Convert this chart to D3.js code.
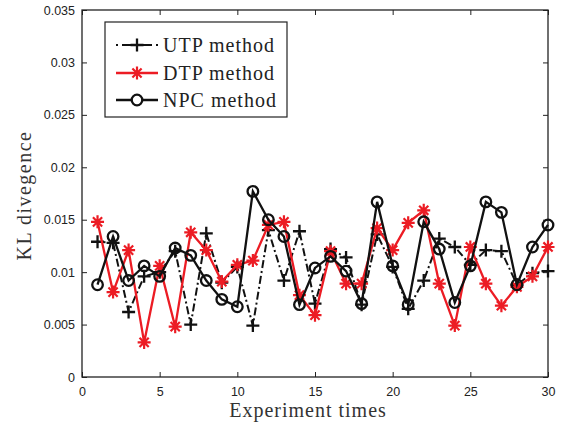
<!DOCTYPE html>
<html>
<head>
<meta charset="utf-8">
<script src="https://cdn.jsdelivr.net/npm/d3@7"></script>
<style>
  html, body { margin: 0; padding: 0; background: #fff; }
  svg { display: block; }
  .tick text { font-family: "Liberation Sans", Arial, sans-serif; font-size: 12.5px; fill: #222; }
</style>
</head>
<body>
<svg id="chart" width="569" height="427"></svg>
<script>
// Experiment index 1..30
const runs = d3.range(1, 31);

// KL divergence per experiment for each method
const utpValues = [0.0129, 0.0128, 0.0062, 0.0096, 0.0100, 0.0120, 0.0050, 0.0137, 0.0090, 0.0105,
                   0.0049, 0.0140, 0.0092, 0.0139, 0.0070, 0.0122, 0.0114, 0.0069, 0.0136, 0.0105,
                   0.0065, 0.0092, 0.0132, 0.0124, 0.0107, 0.0121, 0.0120, 0.0088, 0.0099, 0.0101];
const dtpValues = [0.0148, 0.0081, 0.0121, 0.0033, 0.0106, 0.0048, 0.0138, 0.0121, 0.0091, 0.0107,
                   0.0111, 0.0145, 0.0148, 0.0078, 0.0059, 0.0120, 0.0089, 0.0089, 0.0142, 0.0121,
                   0.0147, 0.0159, 0.0089, 0.0049, 0.0124, 0.0089, 0.0068, 0.0086, 0.0096, 0.0124];
const npcValues = [0.0088, 0.0134, 0.0092, 0.0106, 0.0096, 0.0123, 0.0116, 0.0092, 0.0074, 0.0067,
                   0.0177, 0.0150, 0.0134, 0.0069, 0.0104, 0.0115, 0.0101, 0.0070, 0.0167, 0.0106,
                   0.0069, 0.0148, 0.0122, 0.0071, 0.0106, 0.0167, 0.0157, 0.0088, 0.0124, 0.0145];

const xTicks = [0, 5, 10, 15, 20, 25, 30];
const yTicks = [0, 0.005, 0.01, 0.015, 0.02, 0.025, 0.03, 0.035];
const yTickLabels = ["0", "0.005", "0.01", "0.015", "0.02", "0.025", "0.03", "0.035"];

const seriesNames = ["UTP method", "DTP method", "NPC method"];
const RED = "#ec1c24";
const SERIF = "'Liberation Serif', 'Times New Roman', serif";

const svg = d3.select("#chart");
const margin = { left: 82, right: 21, top: 10, bottom: 50 };
const W = 569, H = 427;
const innerW = W - margin.left - margin.right;
const innerH = H - margin.top - margin.bottom;

const x = d3.scaleLinear().domain([0, 30]).range([margin.left, margin.left + innerW]);
const y = d3.scaleLinear().domain([0, 0.035]).range([margin.top + innerH, margin.top]);

// Axes with inward ticks (left/bottom labelled, top/right unlabelled)
const tickLen = 5;
svg.append("g")
  .attr("transform", `translate(0,${y(0)})`)
  .call(d3.axisBottom(x).tickValues(xTicks).tickSizeInner(-tickLen).tickSizeOuter(0).tickPadding(10))
  .call(g => g.select(".domain").remove())
  .call(g => g.selectAll("line").attr("stroke", "#222"));
svg.append("g")
  .attr("transform", `translate(${x(0)},0)`)
  .call(d3.axisLeft(y).tickValues(yTicks).tickFormat((d, i) => yTickLabels[i]).tickSizeInner(-tickLen).tickSizeOuter(0).tickPadding(7))
  .call(g => g.select(".domain").remove())
  .call(g => g.selectAll("line").attr("stroke", "#222"));
svg.append("g")
  .attr("transform", `translate(0,${y(0.035)})`)
  .call(d3.axisTop(x).tickValues(xTicks).tickSizeInner(-tickLen).tickSizeOuter(0).tickFormat(""))
  .call(g => g.select(".domain").remove())
  .call(g => g.selectAll("line").attr("stroke", "#222"));
svg.append("g")
  .attr("transform", `translate(${x(30)},0)`)
  .call(d3.axisRight(y).tickValues(yTicks).tickSizeInner(-tickLen).tickSizeOuter(0).tickFormat(""))
  .call(g => g.select(".domain").remove())
  .call(g => g.selectAll("line").attr("stroke", "#222"));

// Frame
svg.append("rect")
  .attr("x", x(0)).attr("y", y(0.035))
  .attr("width", x(30) - x(0)).attr("height", y(0) - y(0.035))
  .attr("fill", "none").attr("stroke", "#222").attr("stroke-width", 1.3);

// Axis titles
svg.append("text")
  .attr("x", 308).attr("y", 417)
  .attr("text-anchor", "middle")
  .attr("font-family", SERIF)
  .attr("font-size", 20).attr("letter-spacing", 1).attr("fill", "#333")
  .text("Experiment times");
svg.append("text")
  .attr("transform", `translate(31,${(y(0) + y(0.035)) / 2 + 2}) rotate(-90)`)
  .attr("text-anchor", "middle")
  .attr("font-family", SERIF)
  .attr("font-size", 20).attr("letter-spacing", 1.5).attr("fill", "#333")
  .text("KL divegence");

const line = d3.line().x((d, i) => x(runs[i])).y(d => y(d));

// Marker drawers
function plusPath(s) { return `M${-s},0H${s}M0,${-s}V${s}`; }
function starPath(s) {
  let p = "";
  for (let k = 0; k < 4; k++) {
    const a = k * Math.PI / 4;
    const dx = s * Math.cos(a), dy = s * Math.sin(a);
    p += `M${-dx},${-dy}L${dx},${dy}`;
  }
  return p;
}

// UTP: dash-dot black with plus markers
const plot = svg.append("g");
plot.append("path").datum(utpValues)
  .attr("d", line).attr("fill", "none").attr("stroke", "#111")
  .attr("stroke-width", 2).attr("stroke-dasharray", "8,3,2,3");
plot.selectAll(".utp").data(utpValues).join("path")
  .attr("transform", (d, i) => `translate(${x(runs[i])},${y(d)})`)
  .attr("d", plusPath(6.5)).attr("stroke", "#111").attr("stroke-width", 2.3).attr("fill", "none");

// DTP: solid red with asterisk markers
plot.append("path").datum(dtpValues)
  .attr("d", line).attr("fill", "none").attr("stroke", RED).attr("stroke-width", 2.3);
plot.selectAll(".dtp").data(dtpValues).join("path")
  .attr("transform", (d, i) => `translate(${x(runs[i])},${y(d)})`)
  .attr("d", starPath(6.5)).attr("stroke", RED).attr("stroke-width", 2.2).attr("fill", "none");

// NPC: solid black with open circles
plot.append("path").datum(npcValues)
  .attr("d", line).attr("fill", "none").attr("stroke", "#111").attr("stroke-width", 2.3);
plot.selectAll(".npc").data(npcValues).join("circle")
  .attr("cx", (d, i) => x(runs[i])).attr("cy", d => y(d)).attr("r", 5.3)
  .attr("fill", "none").attr("stroke", "#111").attr("stroke-width", 2.3);

// Legend
const lg = svg.append("g");
lg.append("rect").attr("x", 105).attr("y", 22).attr("width", 182).attr("height", 95)
  .attr("fill", "#fff").attr("stroke", "#222").attr("stroke-width", 1.2);
const rows = [45, 73, 100];
const lx0 = 116, lx1 = 158, lxm = 137;
// UTP sample
lg.append("line").attr("x1", lx0).attr("x2", lx1).attr("y1", rows[0]).attr("y2", rows[0])
  .attr("stroke", "#111").attr("stroke-width", 2).attr("stroke-dasharray", "2,4,30,4,2");
lg.append("path").attr("transform", `translate(${lxm},${rows[0]})`).attr("d", plusPath(6.5))
  .attr("stroke", "#111").attr("stroke-width", 2.3);
// DTP sample
lg.append("line").attr("x1", lx0).attr("x2", lx1).attr("y1", rows[1]).attr("y2", rows[1])
  .attr("stroke", RED).attr("stroke-width", 2.3);
lg.append("path").attr("transform", `translate(${lxm},${rows[1]})`).attr("d", starPath(6.5))
  .attr("stroke", RED).attr("stroke-width", 2.2);
// NPC sample
lg.append("line").attr("x1", lx0).attr("x2", lx1).attr("y1", rows[2]).attr("y2", rows[2])
  .attr("stroke", "#111").attr("stroke-width", 2.3);
lg.append("circle").attr("cx", lxm).attr("cy", rows[2]).attr("r", 5.3)
  .attr("fill", "#fff").attr("stroke", "#111").attr("stroke-width", 2.3);
lg.selectAll(".lt").data(seriesNames).join("text")
  .attr("x", 163).attr("y", (d, i) => rows[i] + 7)
  .attr("font-family", SERIF)
  .attr("font-size", 20).attr("letter-spacing", 1).attr("fill", "#222")
  .text(d => d);
</script>
</body>
</html>
